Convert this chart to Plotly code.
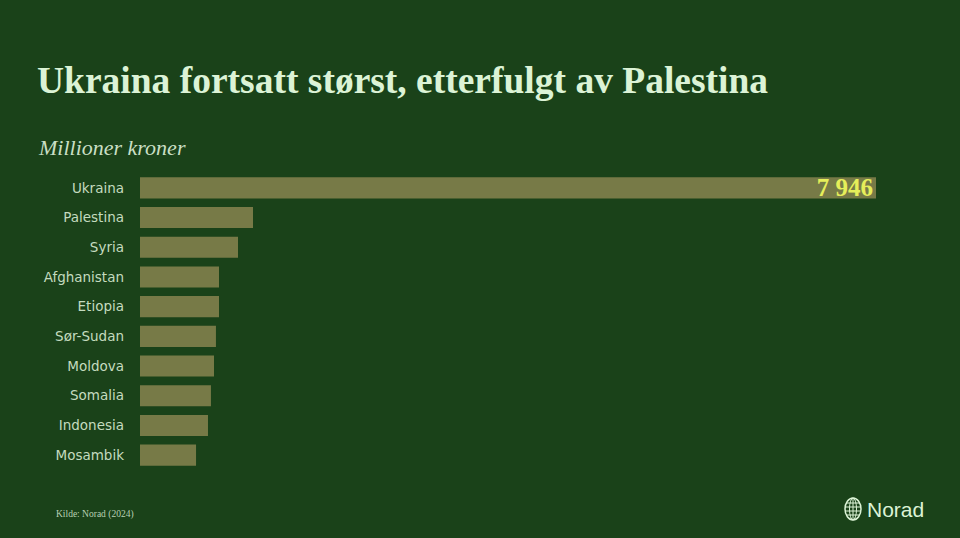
import plotly.graph_objects as go

# Bistand per land, millioner kroner (Norad 2024)
countries = ["Ukraina", "Palestina", "Syria", "Afghanistan", "Etiopia",
             "Sør-Sudan", "Moldova", "Somalia", "Indonesia", "Mosambik"]
values = [7946, 1220, 1058, 853, 853, 820, 799, 766, 734, 605]
value_labels = ["7 946", "", "", "", "", "", "", "", "", ""]

W, H = 960, 538
M_L, M_R, M_T, M_B = 140, 60, 173, 68
BG = "#1a4219"
BAR = "#777a47"
LIGHT = "#dcf3d6"


def px(x):
    return (x - M_L) / (W - M_L - M_R)


def py(y):
    return (H - M_B - y) / (H - M_T - M_B)


fig = go.Figure()
fig.add_trace(go.Bar(
    x=values,
    y=countries,
    orientation="h",
    marker=dict(color=BAR, line=dict(width=0)),
    width=0.71,
    text=value_labels,
    textposition="inside",
    insidetextanchor="end",
    constraintext="none",
    textfont=dict(family="Liberation Serif", size=25, color="#e6ee5a", weight="bold"),
    hoverinfo="skip",
))

fig.update_layout(
    width=W, height=H,
    paper_bgcolor=BG, plot_bgcolor=BG,
    margin=dict(l=M_L, r=M_R, t=M_T, b=M_B),
    showlegend=False,
    xaxis=dict(range=[0, 8205], visible=False, fixedrange=True),
    yaxis=dict(autorange="reversed", showgrid=False, zeroline=False, showline=False,
               ticks="", ticklabelstandoff=15, fixedrange=True,
               tickfont=dict(family="DejaVu Sans", size=13.5, color="#c4dbbf")),
)

fig.add_annotation(
    text="Ukraina fortsatt størst, etterfulgt av Palestina",
    xref="paper", yref="paper", x=px(35), y=py(80), xanchor="left", yanchor="middle",
    showarrow=False,
    font=dict(family="Liberation Serif", size=37.5, color=LIGHT, weight="bold"),
)
fig.add_annotation(
    text="<i>Millioner kroner</i>",
    xref="paper", yref="paper", x=px(36), y=py(147), xanchor="left", yanchor="middle",
    showarrow=False,
    font=dict(family="Liberation Serif", size=22, color="#c9dfc4"),
)
fig.add_annotation(
    text="Kilde: Norad (2024)",
    xref="paper", yref="paper", x=px(54), y=py(514), xanchor="left", yanchor="middle",
    showarrow=False,
    font=dict(family="Liberation Serif", size=9.5, color="#b8d0b3"),
)
fig.add_annotation(
    text="Norad",
    xref="paper", yref="paper", x=px(865), y=py(509), xanchor="left", yanchor="middle",
    showarrow=False,
    font=dict(family="Liberation Sans", size=21, color=LIGHT),
)

# globe logo
cx, cy, rx, ry = 853, 509, 8, 11
fig.add_shape(type="circle", xref="paper", yref="paper",
              x0=px(cx - rx), x1=px(cx + rx), y0=py(cy + ry), y1=py(cy - ry),
              line=dict(color=LIGHT, width=1.5))
fig.add_shape(type="circle", xref="paper", yref="paper",
              x0=px(cx - 3.5), x1=px(cx + 3.5), y0=py(cy + ry), y1=py(cy - ry),
              line=dict(color=LIGHT, width=1))
for dy in (-6, -2, 2, 6):
    half = (rx ** 2 * (1 - (dy / ry) ** 2)) ** 0.5
    fig.add_shape(type="line", xref="paper", yref="paper",
                  x0=px(cx - half), x1=px(cx + half), y0=py(cy + dy), y1=py(cy + dy),
                  line=dict(color=LIGHT, width=1))
fig.add_shape(type="line", xref="paper", yref="paper",
              x0=px(cx), x1=px(cx), y0=py(cy + ry), y1=py(cy - ry),
              line=dict(color=LIGHT, width=1))

fig.write_html("out.html", config={"displayModeBar": False},
               post_script="document.body.style.margin='0';")
